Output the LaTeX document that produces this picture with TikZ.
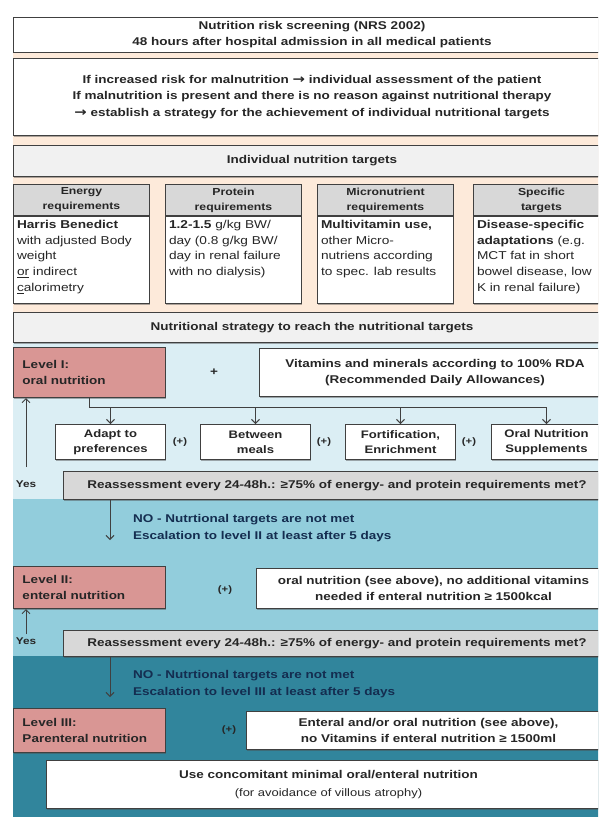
\documentclass[tikz,border=0pt]{standalone}
\usepackage{fontspec}
\setmainfont{Liberation Sans}[FakeStretch=1.2]
\newfontfamily\arw{DejaVu Sans}[FakeStretch=1.2,Scale=1.1]
\usetikzlibrary{arrows.meta,shadows}
\definecolor{peach}{RGB}{253,234,218}
\definecolor{skyA}{RGB}{219,238,244}
\definecolor{skyB}{RGB}{146,205,220}
\definecolor{skyC}{RGB}{49,133,156}
\definecolor{lvlred}{RGB}{217,150,148}
\definecolor{grayA}{RGB}{241,241,241}
\definecolor{grayB}{RGB}{216,216,216}
\definecolor{navy}{RGB}{20,45,80}
\begin{document}
\begin{tikzpicture}[x=1pt,y=-1pt,%
        every node/.style={text=black!85,font=\bfseries\fontsize{11.25}{16.5}\selectfont},
        bx/.style={draw=black!75,line width=1pt,fill=white,anchor=north west,
          align=center,inner sep=1pt,
          drop shadow={shadow xshift=0.8pt,shadow yshift=-1.4pt,fill=black!70,opacity=.45}},
        hd/.style={bx,fill=grayB,minimum width=136pt,minimum height=31pt,
          font=\bfseries\fontsize{10.2}{15}\selectfont},
        bd/.style={bx,inner sep=3.5pt,font=\fontsize{11.4}{15.8}\selectfont},
        lv/.style={bx,fill=lvlred,align=left,text width=134pt,inner xsep=9pt},
        op/.style={bx,minimum width=110pt,minimum height=35pt,
          font=\bfseries\fontsize{10.9}{15}\selectfont},
        rs/.style={bx,fill=grayB,minimum width=547pt},
        ps/.style={font=\bfseries\fontsize{9.4}{13}\selectfont},
        ys/.style={font=\bfseries\fontsize{9.8}{14}\selectfont},
        nt/.style={text=navy,align=left,anchor=west,inner sep=1pt,
          font=\bfseries\fontsize{11.25}{17}\selectfont},
        ln/.style={draw=black!75,line width=1pt},
        ar/.style={ln,-{Straight Barb[length=4pt,width=8pt]}}]
  \useasboundingbox (0,0) rectangle (598,817);
  \clip (0,0) rectangle (598,817);
  \fill[peach] (12.5,52) rectangle (600,312);
  \fill[skyA] (12.5,342) rectangle (600,499);
  \fill[skyB] (12.5,499) rectangle (600,656);
  \fill[skyC] (12.5,656) rectangle (600,817);
  \node[bx,minimum width=598pt,minimum height=35pt] (nrs) at (12.5,16.5)
  {Nutrition risk screening (NRS 2002)\\48 hours after hospital admission in all medical patients};
  \node[bx,minimum width=598pt,minimum height=77pt] (asm) at (12.5,58)
  {If increased risk for malnutrition {\arw →} individual assessment of the patient\\
    If malnutrition is present and there is no reason against nutritional therapy\\
    {\arw →} establish a strategy for the achievement of individual nutritional targets};
  \node[bx,fill=grayA,minimum width=598pt,minimum height=31pt] (tg) at (12.5,145)
  {Individual nutrition targets};
  \node[hd] (th1) at (13,184) {Energy\\requirements};
  \node[hd] (th2) at (165,184) {Protein\\requirements};
  \node[hd] (th3) at (317,184) {Micronutrient\\requirements};
  \node[hd] (th4) at (473,184) {Specific\\targets};
  \node[bd] (tb1) at (th1.south west) {\parbox[t][80pt][t]{129pt}{\raggedright
      \textbf{Harris Benedict}\\with adjusted Body\\weight\\\underline{or} indirect\\\underline{c}alorimetry}};
  \node[bd] (tb2) at (th2.south west) {\parbox[t][80pt][t]{129pt}{\raggedright
      \textbf{1.2-1.5} g/kg BW/\\day (0.8 g/kg BW/\\day in renal failure\\with no dialysis)}};
  \node[bd] (tb3) at (th3.south west) {\parbox[t][80pt][t]{129pt}{\raggedright
      \textbf{Multivitamin use,}\\other Micro-\\nutriens according\\to spec. lab results}};
  \node[bd] (tb4) at (th4.south west) {\parbox[t][80pt][t]{129pt}{\raggedright
      \textbf{Disease-specific}\\\textbf{adaptations} (e.g.\\MCT fat in short\\bowel disease, low\\K in renal failure)}};
  \node[bx,fill=grayA,minimum width=598pt,minimum height=30pt] (str) at (12.5,312)
  {Nutritional strategy to reach the nutritional targets};
  \node[lv,minimum height=50pt] (lv1) at (13,347) {Level I:\\oral nutrition};
  \node (pl1) at (214,372) {+};
  \node[bx,minimum width=351pt,minimum height=48pt] (vit) at (259,348)
  {Vitamins and minerals according to 100\% RDA\\(Recommended Daily Allowances)};
  \node[op] (adp) at (55,424) {Adapt to\\preferences};
  \node[op] (btw) at (200,424) {Between\\meals};
  \node[op] (frt) at (345,424) {Fortification,\\Enrichment};
  \node[op] (ons) at (491,424) {Oral Nutrition\\Supplements};
  \node[ps] (pa) at (180,442) {(+)};
  \node[ps] (pb) at (324,442) {(+)};
  \node[ps] (pc) at (469,442) {(+)};
  \coordinate (bus) at (0,407);
  \draw[ln] (lv1.south) |- (bus -| ons.north);
  \foreach \o in {adp,btw,frt,ons} \draw[ar] (bus -| \o.north) -- (\o.north);
  \node[rs,minimum height=28pt] (re1) at (63,471)
  {Reassessment every 24-48h.: ≥75\% of energy- and protein requirements met?};
  \node[ys] (ys1) at (26,484) {Yes};
  \draw[ar] ([yshift=10pt]ys1.north) -- (ys1.north |- lv1.south);
  \coordinate (e1) at (110,540);
  \draw[ar] (re1.south -| e1) -- (e1);
  \node[nt] (no1) at (132,528) {NO - Nutrtional targets are not met\\Escalation to level II at least after 5 days};
  \node[lv,minimum height=42pt] (lv2) at (13,566) {Level II:\\enteral nutrition};
  \node[ps] (pd) at (225,590) {(+)};
  \node[bx,minimum width=354pt,minimum height=40pt] (ent) at (256,568)
  {oral nutrition (see above), no additional vitamins\\needed if enteral nutrition ≥ 1500kcal};
  \node[ys] (ys2) at (26,641) {Yes};
  \draw[ar] (ys2.north) -- (ys2.north |- lv2.south);
  \node[rs,minimum height=26pt] (re2) at (63,630)
  {Reassessment every 24-48h.: ≥75\% of energy- and protein requirements met?};
  \coordinate (e2) at (110,697);
  \draw[ar] (re2.south -| e2) -- (e2);
  \node[nt] (no2) at (132,684) {NO - Nutrtional targets are not met\\Escalation to level III at least after 5 days};
  \node[lv,minimum height=44pt] (lv3) at (13,708) {Level III:\\Parenteral nutrition};
  \node[ps] (pe) at (229,730) {(+)};
  \node[bx,minimum width=364pt,minimum height=38pt] (par) at (246,711)
  {Enteral and/or oral nutrition (see above),\\no Vitamins if enteral nutrition ≥ 1500ml};
  \node[bx,minimum width=564pt,minimum height=48pt] (use) at (46,760)
  {Use concomitant minimal oral/enteral nutrition\\[1pt]{\mdseries\fontsize{10.8}{15}\selectfont (for avoidance of villous atrophy)}};
\end{tikzpicture}
\end{document}
